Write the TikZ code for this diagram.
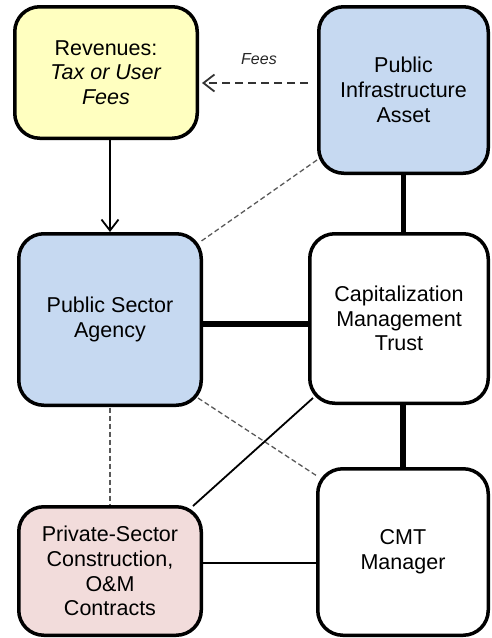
\documentclass[tikz,border=0pt]{standalone}
\usepackage{fontspec}
\setmainfont{Liberation Sans}
\usetikzlibrary{arrows.meta,calc}
\pgfdeclarelayer{bg}
\pgfsetlayers{bg,main}
\definecolor{revyellow}{HTML}{FFFFC0}
\definecolor{pubblue}{HTML}{C6D9F1}
\definecolor{privpink}{HTML}{F2DCDB}
\begin{document}
\begin{tikzpicture}[x=1pt,y=-1pt,
  box/.style={draw=black, line width=3.5pt, rounded corners=25pt, align=center,
    inner sep=0pt, font=\fontsize{21.5}{24.7}\selectfont, text=black},
  thickline/.style={draw=black, line width=5.5pt},
  thinline/.style={draw=black, line width=1.8pt},
  dotline/.style={draw=black!65, line width=1.3pt, dash pattern=on 5pt off 3pt},
  feesline/.style={draw=black!80, line width=2pt, dash pattern=on 8pt off 5pt},
  arr/.style={-{Straight Barb[length=11pt,width=17pt,line width=1.8pt]}},
  lbl/.style={font=\fontsize{16}{19}\selectfont\itshape, text=black!85}
]
\useasboundingbox (0,0) rectangle (491,638);

\node[box, fill=revyellow, minimum width=182.5pt, minimum height=131.5pt] (rev) at (106,72.5)
  {Revenues:\\\textit{Tax or User}\\\textit{Fees}};
\node[box, fill=pubblue, minimum width=169.5pt, minimum height=166.5pt] (pia) at (403.5,90)
  {Public\\Infrastructure\\Asset};
\node[box, fill=pubblue, minimum width=182.5pt, minimum height=171.5pt] (psa) at (110,319.5)
  {Public Sector\\Agency};
\node[box, fill=white, minimum width=178.5pt, minimum height=169.5pt] (cmt) at (399,318.5)
  {Capitalization\\Management\\Trust};
\node[box, fill=privpink, minimum width=182.5pt, minimum height=128.5pt] (priv) at (110,571)
  {Private-Sector\\Construction,\\O\&M\\Contracts};
\node[box, fill=white, minimum width=170.5pt, minimum height=166.5pt] (mgr) at (403,552)
  {CMT\\Manager};

\coordinate (feesy) at (0,83);
\coordinate (linky) at (0,324);
\coordinate (privy) at (0,563);

\begin{pgfonlayer}{bg}
  \draw[thickline] (pia.center) -- (pia.center |- cmt.center);
  \draw[thickline] (mgr.center |- cmt.center) -- (mgr.center);
  \draw[thickline] (psa.center |- linky) -- (cmt.center |- linky);
  \draw[dotline] ($(pia.south west)+(0,-15)$) -- ($(psa.north east)+(-3,10)$);
  \draw[dotline] ($(psa.south east)+(-5,-9)$) -- ($(mgr.north west)+(1,9)$);
  \draw[dotline] (psa.center) -- (priv.center);
  \draw[thinline] ($(cmt.south west)+(5,-7)$) -- ($(priv.north east)+(-10,1)$);
  \draw[thinline] (priv.center |- privy) -- (mgr.center |- privy);
\end{pgfonlayer}

\draw[thinline, arr] (rev.south -| psa.north) -- (psa.north);
\draw[feesline, arr, shorten <=9pt, shorten >=3pt] (pia.west |- feesy) -- (rev.east |- feesy);
\node[lbl] (fees) at (259,59) {Fees};
\end{tikzpicture}
\end{document}
